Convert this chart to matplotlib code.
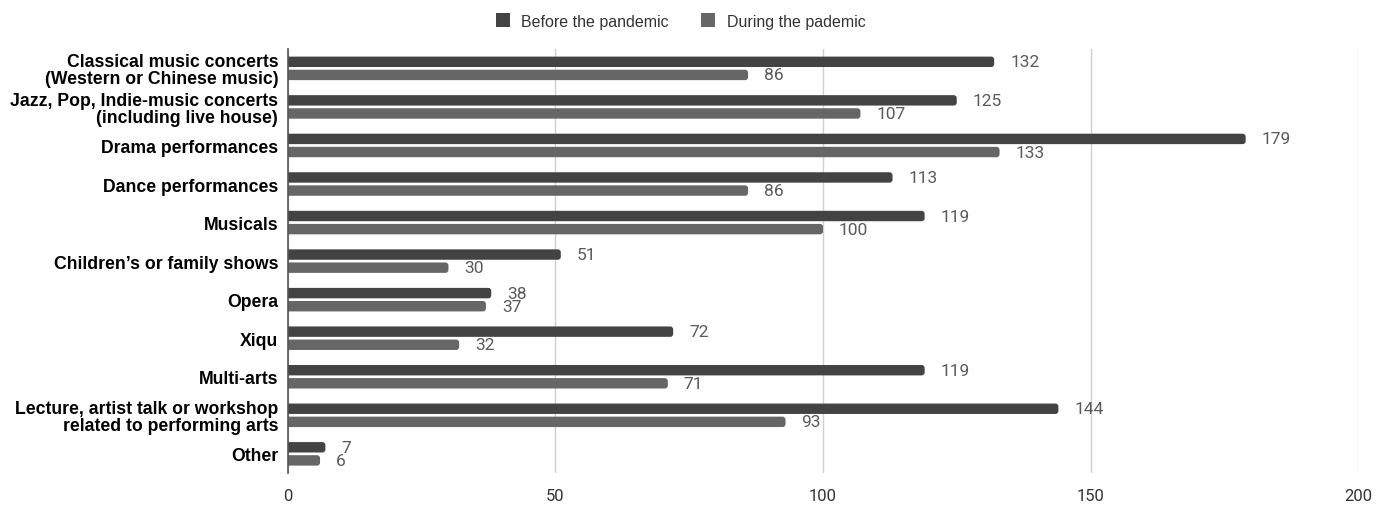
import matplotlib.pyplot as plt
from matplotlib.patches import PathPatch, Rectangle
from matplotlib.path import Path
import numpy as np

categories = [
    "Classical music concerts\n(Western or Chinese music)",
    "Jazz, Pop, Indie-music concerts\n(including live house)",
    "Drama performances",
    "Dance performances",
    "Musicals",
    "Children\u2019s or family shows",
    "Opera",
    "Xiqu",
    "Multi-arts",
    "Lecture, artist talk or workshop\nrelated to performing arts",
    "Other",
]
before = [132, 125, 179, 113, 119, 51, 38, 72, 119, 144, 7]
during = [86, 107, 133, 86, 100, 30, 37, 32, 71, 93, 6]
series_names = ["Before the pandemic", "During the pademic"]
x_ticks = [0, 50, 100, 150, 200]

c_before = "#434343"
c_during = "#666666"

plt.rcParams["font.family"] = ["Liberation Sans", "DejaVu Sans"]

fig = plt.figure(figsize=(13.89, 5.06), dpi=100)
ax = fig.add_axes([0.2073, 0.063, 0.7704, 0.838])

y = np.arange(len(categories))
off = 0.17
h = 0.27
ax.set_ylim(len(categories) - 0.5, -0.5)
ax.set_xlim(0, 200)

# corner radius of the bar ends, converted to data units on each axis
bb = ax.get_window_extent(fig.canvas.get_renderer())
r_px = 3.0
rx = r_px * 200.0 / bb.width
ry = r_px * len(categories) / bb.height


def rounded_bar(yc, v, color):
    y0, y1 = yc - h / 2, yc + h / 2
    r = min(rx, v / 2)
    verts = [(0, y0), (v - r, y0), (v, y0), (v, y0 + ry),
             (v, y1 - ry), (v, y1), (v - r, y1), (0, y1), (0, y0)]
    codes = [Path.MOVETO, Path.LINETO, Path.CURVE3, Path.CURVE3,
             Path.LINETO, Path.CURVE3, Path.CURVE3, Path.LINETO, Path.CLOSEPOLY]
    ax.add_patch(PathPatch(Path(verts, codes), facecolor=color,
                           edgecolor="none", zorder=3))


for yi, v in zip(y, before):
    rounded_bar(yi - off, v, c_before)
for yi, v in zip(y, during):
    rounded_bar(yi + off, v, c_during)

lab_font = ["Roboto", "DejaVu Sans"]
for yi, v in zip(y, before):
    ax.text(v + 3, yi - off, str(v), va="center", ha="left", fontsize=12.5,
            color="#5a5a5a", family=lab_font)
for yi, v in zip(y, during):
    ax.text(v + 3, yi + off, str(v), va="center", ha="left", fontsize=12.5,
            color="#5a5a5a", family=lab_font)

ax.set_yticks(y)
ax.set_yticklabels(categories, fontsize=12.7, fontweight="bold", linespacing=1.0)
ax.set_xticks(x_ticks)
ax.set_xticklabels([str(t) for t in x_ticks], fontsize=12, color="#333333",
                   family=lab_font)
ax.tick_params(axis="both", length=0)
ax.tick_params(axis="y", pad=7)
ax.tick_params(axis="x", pad=11)

ax.grid(axis="x", color="#d0d0d0", linewidth=1, zorder=0)
for s in ["top", "right", "bottom"]:
    ax.spines[s].set_visible(False)
ax.spines["left"].set_color("#555555")
ax.spines["left"].set_linewidth(1.2)
ax.spines["left"].set_zorder(4)

handles = [Rectangle((0, 0), 1, 1, facecolor=c_before),
           Rectangle((0, 0), 1, 1, facecolor=c_during)]
leg = fig.legend(handles, series_names, loc="upper center",
                 bbox_to_anchor=(0.49, 1.0), ncol=2, frameon=False,
                 handlelength=0.9, handleheight=0.9, columnspacing=2.0,
                 handletextpad=0.7,
                 prop={"family": ["Liberation Sans", "DejaVu Sans"], "size": 11.5})
for t in leg.get_texts():
    t.set_color("#333333")

fig.savefig("out.png", dpi=100, facecolor="white")
